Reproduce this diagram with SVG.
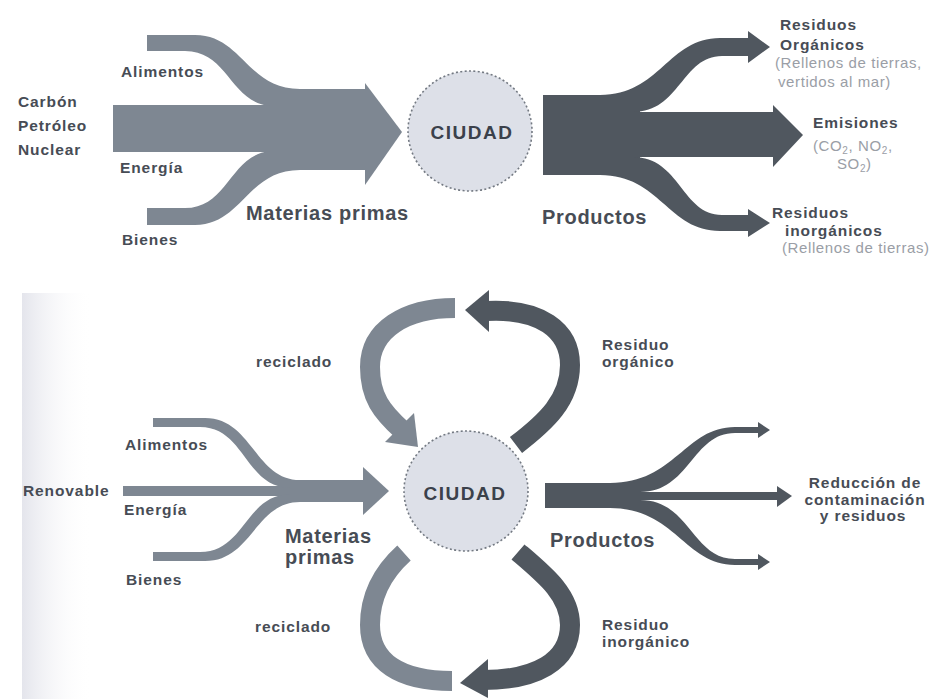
<svg xmlns="http://www.w3.org/2000/svg" width="929" height="699" viewBox="0 0 929 699">
<defs>
<style>
.lbl{font-family:"Liberation Sans",Arial,sans-serif;font-weight:bold;font-size:15.5px;letter-spacing:0.9px;fill:#474c55}
.big{font-size:20px;letter-spacing:0.7px}
.sub{font-weight:normal;fill:#9a9ea6;font-size:15px;letter-spacing:0.6px}
.city{font-size:19px;letter-spacing:1.5px;fill:#3b414b;text-anchor:middle}
.mid{text-anchor:middle}
.light{fill:#7e8792}
.dark{fill:#50575f}
.lstroke{fill:none;stroke:#7e8792;stroke-width:20}
.dstroke{fill:none;stroke:#50575f;stroke-width:20}
.circ{fill:#dde0e8;stroke:#737982;stroke-width:1.6;stroke-dasharray:2 2.4}
</style>
<linearGradient id="edge" x1="0" y1="0" x2="1" y2="0">
<stop offset="0" stop-color="#e4e5ec"/>
<stop offset="1" stop-color="#ffffff" stop-opacity="0"/>
</linearGradient>
</defs>
<rect width="929" height="699" fill="#ffffff"/>
<rect x="22" y="293" width="70" height="406" fill="url(#edge)"/>

<g id="connectors">
<!-- top left inputs -->
<g class="light">
<rect x="113" y="105" width="255" height="47"/>
<path d="M147,35 L195,35 C242,35 247,89 300,89 L366,89 L366,106 L270,106 C230,102 228,51 185,51 L147,51 Z"/>
<path d="M147,225 L195,225 C242,225 247,170 300,170 L366,170 L366,151 L270,151 C230,155 228,208 185,208 L147,208 Z"/>
<polygon points="365,83 402,132 365,185"/>
</g>
<!-- top right outputs -->
<g class="dark">
<rect x="543" y="95" width="97" height="80"/>
<path d="M600,95 C660,95 668,38 720,38 L748,38 L748,31 L770,47 L748,63 L748,56 L722,56 C682,56 680,112 633,112 L600,112 Z"/>
<rect x="600" y="112" width="175" height="45"/>
<polygon points="773,105 803,135 773,167"/>
<path d="M600,175 C660,175 668,231 720,231 L748,231 L748,237 L770,223 L748,209 L748,215 L722,215 C682,215 680,157 633,157 L600,157 Z"/>
</g>
<!-- bottom left inputs -->
<g class="light">
<rect x="123" y="486" width="243" height="10"/>
<path d="M153,418 L205,418 C252,418 255,480 300,480 L366,480 L366,488 L290,488 C245,487 245,427 200,427 L153,427 Z"/>
<path d="M153,561 L205,561 C252,561 255,502 300,502 L366,502 L366,494 L290,494 C245,495 245,552 200,552 L153,552 Z"/>
<polygon points="363,467 389,491 363,515"/>
</g>
<!-- bottom right outputs -->
<g class="dark">
<rect x="545" y="483" width="80" height="25"/>
<path d="M610,483 C675,483 685,427 735,427 L758,427 L758,422 L770,430 L758,438 L758,433 L735,433 C692,433 690,492 640,492 L610,492 Z"/>
<rect x="600" y="492" width="180" height="8"/>
<polygon points="777,486 792,496 777,507"/>
<path d="M610,508 C675,508 685,565 735,565 L758,565 L758,570 L770,562 L758,554 L758,559 L735,559 C692,559 690,500 640,500 L610,500 Z"/>
</g>
<!-- recycling loops -->
<path class="lstroke" d="M455,308 C405,308 370,330 370,367 C370,397 382,412 402,430"/>
<polygon class="light" points="418,447 414,413 385,442"/>
<path class="dstroke" d="M486,311 C540,308 570,330 570,365 C570,400 546,422 516,445"/>
<polygon class="dark" points="465,310 489,290 489,332"/>
<path class="lstroke" d="M404,553 C383,572 370,595 370,625 C370,662 400,681 452,681"/>
<path class="dstroke" d="M518,552 C545,575 570,595 570,625 C570,662 535,680 483,680"/>
<polygon class="dark" points="460,683 488,659 488,698"/>
</g>

<g id="ciudad-top">
<ellipse class="circ" cx="470" cy="131" rx="62" ry="60"/>
<text class="lbl city" x="472" y="139">CIUDAD</text>
</g>
<g id="ciudad-bottom">
<ellipse class="circ" cx="466" cy="491" rx="62" ry="60"/>
<text class="lbl city" x="465" y="500">CIUDAD</text>
</g>

<g id="fuentes-top"><text class="lbl" x="18" y="107">Carbón</text><text class="lbl" x="18" y="131">Petróleo</text><text class="lbl" x="18" y="155">Nuclear</text></g>
<g id="alimentos-top"><text class="lbl" x="121" y="77">Alimentos</text></g>
<g id="energia-top"><text class="lbl" x="120" y="173">Energía</text></g>
<g id="bienes-top"><text class="lbl" x="122" y="245">Bienes</text></g>
<g id="materias-top"><text class="lbl big" x="246" y="220">Materias primas</text></g>
<g id="productos-top"><text class="lbl big" x="542" y="224">Productos</text></g>
<g id="residuos-organicos">
<text class="lbl" x="780" y="30">Residuos</text>
<text class="lbl" x="780" y="50">Orgánicos</text>
<text class="lbl sub" x="775" y="68">(Rellenos de tierras,</text>
<text class="lbl sub" x="778" y="87">vertidos al mar)</text>
</g>
<g id="emisiones">
<text class="lbl" x="813" y="128">Emisiones</text>
<text class="lbl sub" x="813" y="151">(CO<tspan font-size="10" dy="3">2</tspan><tspan dy="-3">,  NO</tspan><tspan font-size="10" dy="3">2</tspan><tspan dy="-3">,</tspan></text>
<text class="lbl sub" x="837" y="169">SO<tspan font-size="10" dy="3">2</tspan><tspan dy="-3">)</tspan></text>
</g>
<g id="residuos-inorganicos">
<text class="lbl" x="772" y="218">Residuos</text>
<text class="lbl" x="785" y="236">inorgánicos</text>
<text class="lbl sub" x="782" y="253">(Rellenos de tierras)</text>
</g>

<g id="renovable"><text class="lbl" x="23" y="496">Renovable</text></g>
<g id="alimentos-bottom"><text class="lbl" x="125" y="450">Alimentos</text></g>
<g id="energia-bottom"><text class="lbl" x="124" y="515">Energía</text></g>
<g id="bienes-bottom"><text class="lbl" x="126" y="585">Bienes</text></g>
<g id="materias-bottom"><text class="lbl big" x="285" y="543">Materias</text><text class="lbl big" x="285" y="564">primas</text></g>
<g id="reciclado-top"><text class="lbl" x="256" y="367">reciclado</text></g>
<g id="reciclado-bottom"><text class="lbl" x="255" y="632">reciclado</text></g>
<g id="residuo-organico"><text class="lbl" x="602" y="350">Residuo</text><text class="lbl" x="602" y="367">orgánico</text></g>
<g id="productos-bottom"><text class="lbl big" x="550" y="547">Productos</text></g>
<g id="reduccion">
<text class="lbl mid" x="865" y="488">Reducción de</text>
<text class="lbl mid" x="865" y="505">contaminación</text>
<text class="lbl mid" x="863" y="521">y residuos</text>
</g>
<g id="residuo-inorganico"><text class="lbl" x="602" y="630">Residuo</text><text class="lbl" x="602" y="647">inorgánico</text></g>
</svg>
